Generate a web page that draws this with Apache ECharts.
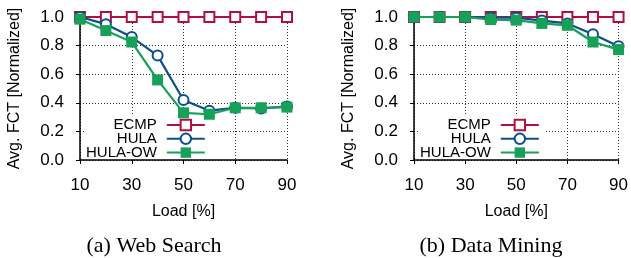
<!DOCTYPE html>
<html>
<head>
<meta charset="utf-8">
<script src="https://cdn.jsdelivr.net/npm/echarts@6/dist/echarts.min.js"></script>
<style>html,body{margin:0;padding:0;background:#fff;}#c{width:631px;height:258px;}</style>
</head>
<body>
<div id="c"></div>
<script>
const loads = ['10','20','30','40','50','60','70','80','90'];
const yTicks = [0, 0.2, 0.4, 0.6, 0.8, 1.0];
const seriesNames = ['ECMP', 'HULA', 'HULA-OW'];
const captions = ['(a) Web Search', '(b) Data Mining'];
const xTitle = 'Load [%]';
const yTitle = 'Avg. FCT [Normalized]';

const wsECMP = [1, 1, 1, 1, 1, 1, 1, 1, 1];
const wsHULA = [1.0, 0.95, 0.86, 0.73, 0.42, 0.345, 0.365, 0.36, 0.375];
const wsHULAOW = [0.985, 0.905, 0.825, 0.56, 0.33, 0.32, 0.365, 0.365, 0.37];

const dmECMP = [1, 1, 1, 1, 1, 1, 1, 1, 1];
const dmHULA = [1.0, 1.0, 1.0, 0.995, 0.995, 0.975, 0.955, 0.88, 0.795];
const dmHULAOW = [1.0, 1.0, 1.0, 0.982, 0.978, 0.955, 0.942, 0.825, 0.772];

const colors = ['#b0103f', '#0b4f8c', '#17a158'];
const symbols = ['emptyRect', 'emptyCircle', 'rect'];
const symSizes = [10, 10, 11];
const FONT = 'Liberation Sans';

const grids = [
  {left: 80, top: 17, width: 207, height: 143},
  {left: 414, top: 17, width: 206, height: 143}
];

// grid-line axis (drawn below the legend)
function xGridAxis(i) {
  return {
    type: 'category', gridIndex: i, data: loads, boundaryGap: false, z: 0,
    axisLine: {show: false}, axisTick: {show: false}, axisLabel: {show: false},
    splitLine: {show: true, interval: 1, lineStyle: {color: '#333', type: [1, 2], width: 1}}
  };
}
// visible axis line / labels (drawn above the legend)
function xAxisFor(i) {
  return {
    type: 'category', gridIndex: i, data: loads, boundaryGap: false, z: 10,
    name: xTitle, nameLocation: 'middle', nameGap: 44,
    nameTextStyle: {fontFamily: FONT, fontSize: 16, color: '#000'},
    axisLine: {show: true, lineStyle: {color: '#000', width: 1.5}},
    axisTick: {show: true, interval: 1, inside: false, length: 4, lineStyle: {color: '#000'}},
    axisLabel: {interval: 1, fontFamily: FONT, fontSize: 17, color: '#000', margin: 17},
    splitLine: {show: false}
  };
}
function yAxisFor(i) {
  return {
    type: 'value', gridIndex: i, min: yTicks[0], max: yTicks[yTicks.length - 1], interval: 0.2,
    name: yTitle, nameLocation: 'middle', nameGap: 57,
    nameTextStyle: {fontFamily: FONT, fontSize: 16, color: '#000'},
    axisLine: {show: true, lineStyle: {color: '#000', width: 1.5}},
    axisTick: {show: true, length: 4, lineStyle: {color: '#000'}},
    axisLabel: {fontFamily: FONT, fontSize: 17, color: '#000', margin: 16,
      formatter: v => v.toFixed(1)},
    splitLine: {show: true, lineStyle: {color: '#333', type: [1, 2], width: 1}}
  };
}

const dataSets = [[wsECMP, wsHULA, wsHULAOW], [dmECMP, dmHULA, dmHULAOW]];
const series = [];
dataSets.forEach((set, g) => {
  set.forEach((vals, k) => {
    series.push({
      name: seriesNames[k], type: 'line', xAxisIndex: g * 2, yAxisIndex: g,
      data: vals, symbol: symbols[k], symbolSize: symSizes[k],
      showAllSymbol: true, animation: false, z: 2 + k,
      lineStyle: {color: colors[k], width: 2.2},
      itemStyle: {color: colors[k], borderColor: colors[k], borderWidth: k === 2 ? 0 : 2}
    });
  });
});

function legendFor(i, left) {
  return {
    orient: 'vertical', align: 'right', left: left, top: 115.5, z: 4,
    data: seriesNames, itemWidth: 38, itemHeight: 13, itemGap: -1.2,
    backgroundColor: '#fff', padding: [2, 6, 0, 2],
    textStyle: {fontFamily: FONT, fontSize: 15, color: '#000', padding: [0, 5, 0, 0]},
    selectedMode: false
  };
}

const chart = echarts.init(document.getElementById('c'), null, {renderer: 'canvas'});
chart.setOption({
  animation: false,
  backgroundColor: '#fff',
  grid: grids,
  xAxis: [xAxisFor(0), xGridAxis(0), xAxisFor(1), xGridAxis(1)],
  yAxis: [yAxisFor(0), yAxisFor(1)],
  legend: [legendFor(0, 84), legendFor(1, 418)],
  title: [
    {text: captions[0], left: 154, top: 235, textAlign: 'center', padding: 0,
     textStyle: {fontFamily: 'Liberation Serif', fontSize: 22, fontWeight: 'normal', color: '#000'}},
    {text: captions[1], left: 491, top: 235, textAlign: 'center', padding: 0,
     textStyle: {fontFamily: 'Liberation Serif', fontSize: 22, fontWeight: 'normal', color: '#000'}}
  ],
  series: series
});
</script>
</body>
</html>
